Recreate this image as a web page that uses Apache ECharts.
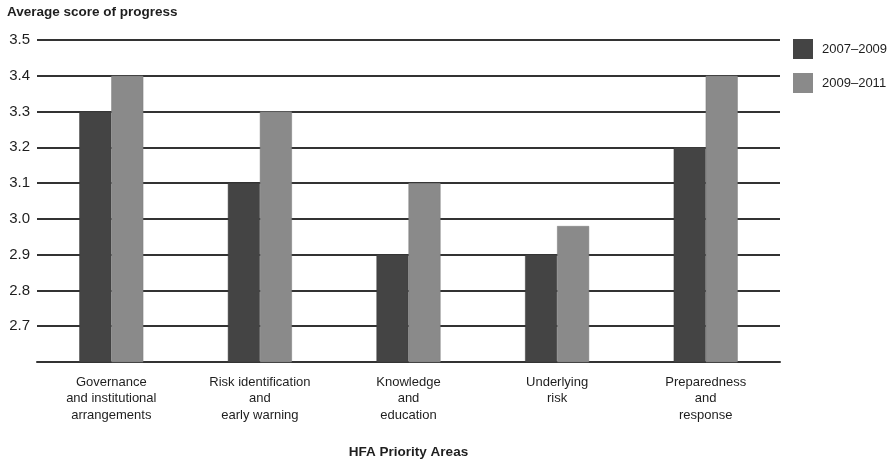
<!DOCTYPE html>
<html>
<head>
<meta charset="utf-8">
<script src="https://cdn.jsdelivr.net/npm/echarts@6/dist/echarts.min.js"></script>
<style>
  html, body { margin: 0; padding: 0; background: #fff; }
  #chart { width: 893px; height: 464px; }
</style>
</head>
<body>
<div id="chart"></div>
<script>
// HFA priority areas and average progress scores per reporting cycle
const categories = [
  'Governance\nand institutional\narrangements',
  'Risk identification\nand\nearly warning',
  'Knowledge\nand\neducation',
  'Underlying\nrisk',
  'Preparedness\nand\nresponse'
];
const period1Name = '2007\u20132009';
const period2Name = '2009\u20132011';
const period1Scores = [3.3, 3.1, 2.9, 2.9, 3.2];
const period2Scores = [3.4, 3.3, 3.1, 2.98, 3.4];
const yTicks = [2.7, 2.8, 2.9, 3.0, 3.1, 3.2, 3.3, 3.4, 3.5];

const font = 'Liberation Sans, Arial, Helvetica, sans-serif';
const chart = echarts.init(document.getElementById('chart'), null, { renderer: 'canvas' });

chart.setOption({
  animation: false,
  backgroundColor: '#ffffff',
  textStyle: { fontFamily: font },
  title: {
    text: 'Average score of progress',
    left: 7,
    top: 5,
    padding: 0,
    textStyle: { fontFamily: font, fontSize: 13.5, fontWeight: 'bold', color: '#1e1e1e' }
  },
  legend: {
    orient: 'vertical',
    left: 793,
    top: 39,
    padding: 0,
    itemWidth: 20,
    itemHeight: 20,
    itemGap: 14,
    icon: 'rect',
    itemStyle: { borderWidth: 0 },
    textStyle: { fontFamily: font, fontSize: 13, color: '#1e1e1e', padding: [0, 0, 0, 4] },
    data: [period1Name, period2Name]
  },
  grid: { left: 37, right: 113, top: 40, bottom: 99, containLabel: false },
  xAxis: {
    type: 'category',
    data: categories,
    name: 'HFA Priority Areas',
    nameLocation: 'middle',
    nameGap: 83,
    nameTextStyle: { fontFamily: font, fontSize: 13.5, fontWeight: 'bold', color: '#1e1e1e' },
    axisLine: { show: true, lineStyle: { color: '#333', width: 2 } },
    axisTick: { show: false },
    axisLabel: { fontFamily: font, fontSize: 13, color: '#1e1e1e', lineHeight: 16.5, margin: 12 }
  },
  yAxis: {
    type: 'value',
    min: 2.6,
    max: 3.5,
    interval: 0.1,
    axisLine: { show: false },
    axisTick: { show: false },
    axisLabel: {
      fontFamily: font, fontSize: 15, color: '#1e1e1e', margin: 7,
      formatter: function (v) {
        const r = Math.round(v * 10) / 10;
        return yTicks.some(t => Math.abs(t - r) < 1e-9) ? r.toFixed(1) : '';
      }
    },
    splitLine: {
      show: true,
      lineStyle: { color: '#333', width: 2 }
    }
  },
  series: [
    {
      name: period1Name,
      type: 'bar',
      data: period1Scores,
      barWidth: 32,
      barGap: '0%',
      itemStyle: { color: '#444444', borderColor: '#3a3a3a', borderWidth: 0.5 },
      z: 3
    },
    {
      name: period2Name,
      type: 'bar',
      data: period2Scores,
      barWidth: 32,
      barGap: '0%',
      itemStyle: { color: '#8a8a8a', borderColor: '#7a7a7a', borderWidth: 0.5 },
      z: 3
    }
  ]
});
</script>
</body>
</html>
